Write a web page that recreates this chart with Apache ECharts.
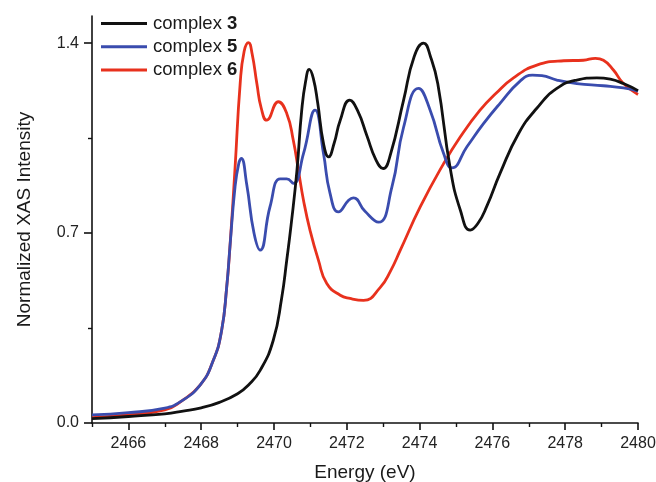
<!DOCTYPE html>
<html>
<head>
<meta charset="utf-8">
<script src="https://cdn.jsdelivr.net/npm/echarts@6/dist/echarts.min.js"></script>
<style>
  html, body { margin: 0; padding: 0; background: #ffffff; }
  #chart { width: 656px; height: 482px; }
</style>
</head>
<body>
<div id="chart"></div>
<script>
// S K-edge XAS spectra, energy in eV, normalized intensity
const energy3 = [2465.0, 2466.0, 2467.0, 2467.5, 2468.0, 2468.5, 2469.0, 2469.3, 2469.62, 2469.98, 2470.21, 2470.35, 2470.47, 2470.63, 2470.76, 2470.87, 2470.97, 2471.08, 2471.2, 2471.36, 2471.5, 2471.65, 2471.82, 2472.08, 2472.3, 2472.55, 2472.8, 2473.0, 2473.2, 2473.56, 2473.85, 2474.11, 2474.3, 2474.5, 2474.84, 2475.12, 2475.39, 2475.6, 2475.85, 2476.21, 2476.72, 2477.22, 2477.77, 2478.32, 2478.87, 2479.24, 2479.6, 2480.0];
const intensity3 = [0.016, 0.024, 0.034, 0.044, 0.056, 0.076, 0.108, 0.140, 0.194, 0.305, 0.460, 0.600, 0.730, 0.930, 1.150, 1.260, 1.303, 1.270, 1.180, 1.030, 0.981, 1.030, 1.116, 1.190, 1.150, 1.060, 0.970, 0.938, 0.990, 1.190, 1.350, 1.400, 1.350, 1.250, 0.940, 0.784, 0.711, 0.735, 0.800, 0.920, 1.067, 1.160, 1.233, 1.264, 1.272, 1.267, 1.251, 1.225];

const energy5 = [2465.0, 2466.0, 2467.0, 2467.42, 2467.97, 2468.33, 2468.56, 2468.7, 2468.79, 2468.93, 2469.03, 2469.1, 2469.25, 2469.45, 2469.62, 2469.89, 2470.17, 2470.35, 2470.53, 2470.81, 2471.13, 2471.36, 2471.54, 2471.77, 2472.05, 2472.18, 2472.5, 2472.87, 2473.24, 2473.56, 2473.97, 2474.29, 2474.66, 2474.89, 2475.3, 2475.76, 2476.21, 2476.76, 2477.1, 2477.36, 2477.77, 2478.32, 2479.05, 2479.6, 2480.0];
const intensity5 = [0.030, 0.038, 0.055, 0.078, 0.140, 0.230, 0.340, 0.500, 0.650, 0.870, 0.955, 0.975, 0.880, 0.700, 0.637, 0.797, 0.900, 0.900, 0.883, 0.993, 1.153, 0.993, 0.846, 0.778, 0.821, 0.830, 0.780, 0.740, 0.870, 1.090, 1.233, 1.153, 0.993, 0.940, 1.018, 1.104, 1.178, 1.260, 1.282, 1.280, 1.264, 1.251, 1.243, 1.235, 1.223];

const energy6 = [2465.0, 2466.0, 2467.0, 2467.42, 2467.97, 2468.33, 2468.56, 2468.7, 2468.79, 2468.93, 2469.07, 2469.18, 2469.3, 2469.4, 2469.53, 2469.65, 2469.8, 2470.12, 2470.35, 2470.53, 2470.67, 2470.81, 2470.99, 2471.22, 2471.45, 2471.82, 2472.09, 2472.46, 2472.92, 2473.2, 2473.47, 2474.02, 2474.66, 2475.12, 2475.66, 2476.1, 2476.58, 2477.22, 2477.96, 2478.5, 2478.83, 2479.05, 2479.33, 2479.6, 2480.0];
const intensity6 = [0.020, 0.030, 0.048, 0.077, 0.140, 0.230, 0.340, 0.500, 0.650, 0.940, 1.250, 1.370, 1.402, 1.360, 1.250, 1.160, 1.116, 1.184, 1.141, 1.042, 0.932, 0.821, 0.710, 0.600, 0.514, 0.471, 0.459, 0.452, 0.500, 0.560, 0.637, 0.797, 0.956, 1.055, 1.153, 1.215, 1.272, 1.319, 1.335, 1.337, 1.344, 1.337, 1.300, 1.251, 1.211];

const seriesNames = ['complex 3', 'complex 5', 'complex 6'];
const seriesColors = ['#111111', '#3a4cae', '#e8311d'];

const xTickLabels = [2466, 2468, 2470, 2472, 2474, 2476, 2478, 2480];
const xMinorTicks = [2465, 2467, 2469, 2471, 2473, 2475, 2477, 2479];
const yTickLabels = [0.0, 0.7, 1.4];
const yMinorTicks = [0.35, 1.05];

const zip = (xs, ys) => xs.map((x, i) => [x, ys[i]]);
const curves = [zip(energy3, intensity3), zip(energy5, intensity5), zip(energy6, intensity6)];

const FONT = '"Liberation Sans", Arial, Helvetica, sans-serif';

const chart = echarts.init(document.getElementById('chart'), null, { renderer: 'canvas' });

chart.setOption({
  backgroundColor: '#ffffff',
  animation: false,
  grid: { left: 92, right: 18, top: 16, bottom: 59, outerBoundsMode: 'none', containLabel: false },
  legend: {
    orient: 'vertical',
    left: 96,
    top: 8.5,
    icon: 'rect',
    itemWidth: 46,
    itemHeight: 3,
    itemGap: 3.3,
    data: seriesNames,
    formatter: name => {
      const parts = name.split(' ');
      return '{t|' + parts[0] + ' }{b|' + parts[1] + '}';
    },
    textStyle: {
      padding: [0, 0, 0, 1],
      lineHeight: 20,
      rich: {
        t: { fontFamily: FONT, fontSize: 18.5, color: '#1a1a1a', lineHeight: 20 },
        b: { fontFamily: FONT, fontSize: 18.5, fontWeight: 'bold', color: '#1a1a1a', lineHeight: 20 }
      }
    }
  },
  xAxis: [
    {
      type: 'value',
      min: 2465,
      max: 2480,
      name: 'Energy (eV)',
      nameLocation: 'middle',
      nameGap: 40,
      nameTextStyle: { fontFamily: FONT, fontSize: 19, color: '#1a1a1a' },
      splitLine: { show: false },
      axisLine: { show: true, onZero: false, lineStyle: { color: '#111111', width: 1.6 } },
      axisTick: { show: true, inside: false, length: 7, customValues: xTickLabels, lineStyle: { color: '#111111', width: 1.6 } },
      axisLabel: {
        customValues: xTickLabels,
        margin: 13,
        fontFamily: FONT,
        fontSize: 16,
        color: '#222222',
        formatter: v => String(Math.round(v))
      }
    },
    {
      type: 'value',
      min: 2465,
      max: 2480,
      position: 'bottom',
      splitLine: { show: false },
      axisLine: { show: false, onZero: false },
      axisTick: { show: true, inside: false, length: 4, customValues: xMinorTicks, lineStyle: { color: '#111111', width: 1.4 } },
      axisLabel: { show: false }
    }
  ],
  yAxis: [
    {
      type: 'value',
      min: 0,
      max: 1.5,
      name: 'Normalized XAS Intensity',
      nameLocation: 'middle',
      nameGap: 58,
      nameTextStyle: { fontFamily: FONT, fontSize: 19, color: '#1a1a1a' },
      splitLine: { show: false },
      axisLine: { show: true, onZero: false, lineStyle: { color: '#111111', width: 1.6 } },
      axisTick: { show: true, inside: false, length: 8, customValues: yTickLabels, lineStyle: { color: '#111111', width: 1.6 } },
      axisLabel: {
        customValues: yTickLabels,
        margin: 13,
        fontFamily: FONT,
        fontSize: 16,
        color: '#222222',
        formatter: v => Number(v).toFixed(1)
      }
    },
    {
      type: 'value',
      min: 0,
      max: 1.5,
      position: 'left',
      splitLine: { show: false },
      axisLine: { show: false, onZero: false },
      axisTick: { show: true, inside: false, length: 4, customValues: yMinorTicks, lineStyle: { color: '#111111', width: 1.4 } },
      axisLabel: { show: false }
    }
  ],
  series: seriesNames.map((name, i) => ({
    name: name,
    type: 'line',
    xAxisIndex: 0,
    yAxisIndex: 0,
    data: curves[i],
    smooth: 0.5,
    showSymbol: false,
    symbol: 'none',
    color: seriesColors[i],
    lineStyle: { color: seriesColors[i], width: 2.8 },
    z: 3 - i
  }))
});
</script>
</body>
</html>
